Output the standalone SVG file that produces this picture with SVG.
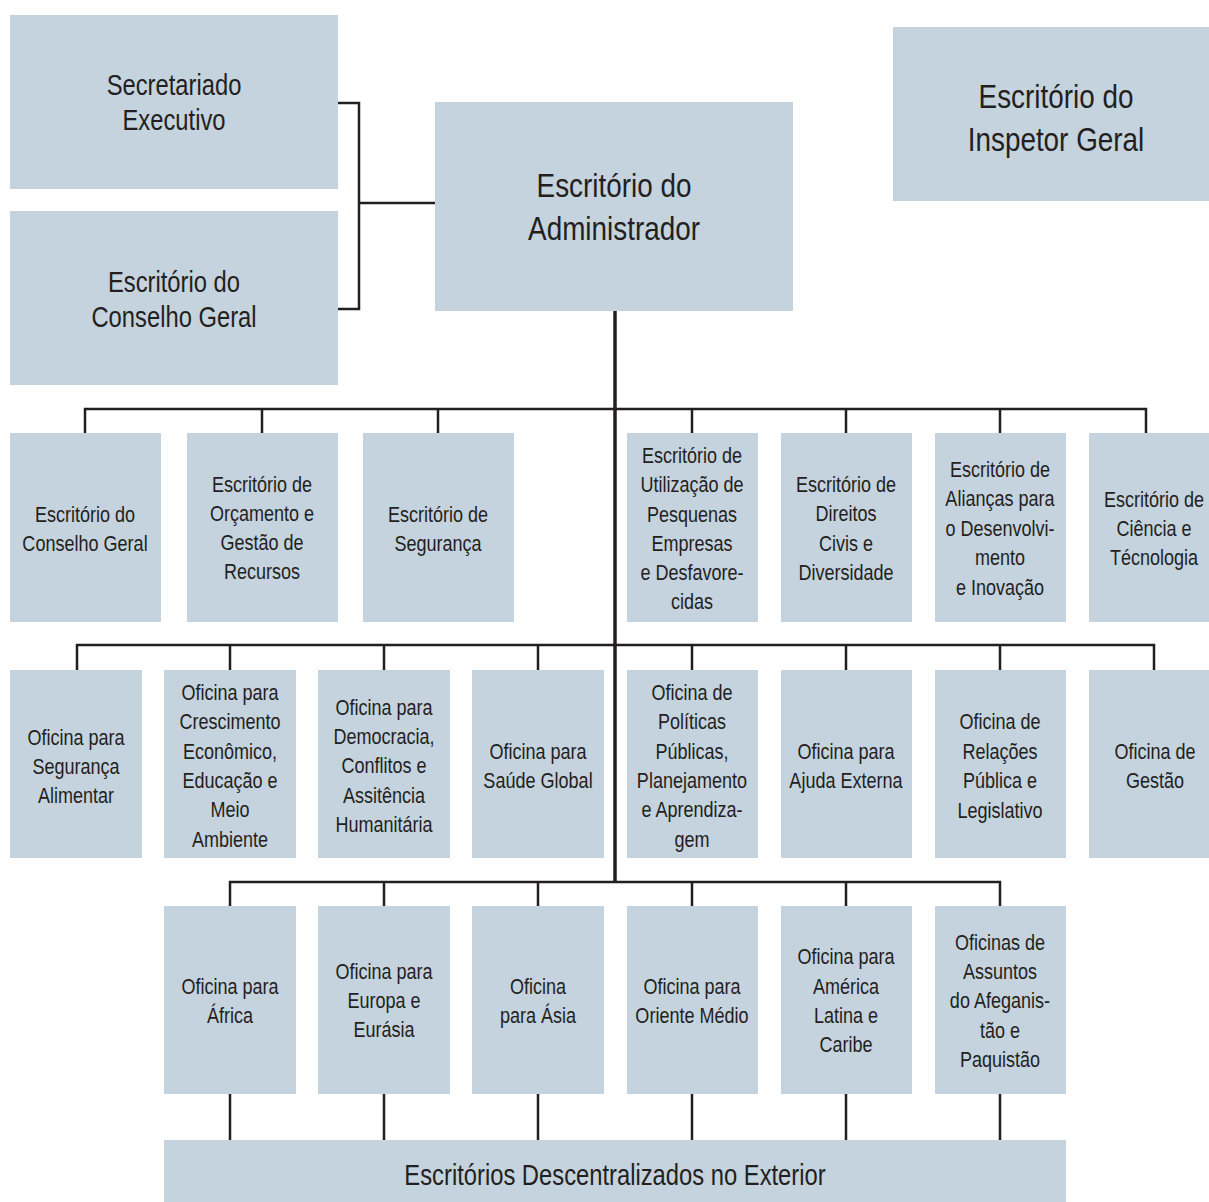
<svg xmlns="http://www.w3.org/2000/svg" width="1209" height="1202" viewBox="0 0 1209 1202">
<style>
.box{fill:#c5d3de}
.t{font-family:"Liberation Sans",Arial,sans-serif;fill:#231f20;text-anchor:middle}
.s{font-size:22px}
.m{font-size:29px}
.l{font-size:34px}
.c{stroke:#231f20;stroke-width:2.5;fill:none}
.sp{stroke:#231f20;stroke-width:3.5;fill:none}
</style>
<rect width="1209" height="1202" fill="#fff"/>
<g id="connectors">
<path class="c" d="M338 103H359V309H338M359 203H435"/>
<path class="sp" d="M615 311V882"/>
<path class="c" d="M85 433V409H1146V433M262 409V433M438 409V433M692 409V433M846 409V433M1000 409V433"/>
<path class="c" d="M77 670V645H1154V670M230 645V670M384 645V670M538 645V670M692 645V670M846 645V670M1000 645V670"/>
<path class="c" d="M230 906V882H1000V906M384 882V906M538 882V906M692 882V906M846 882V906"/>
<path class="c" d="M230 1094V1140M384 1094V1140M538 1094V1140M692 1094V1140M846 1094V1140M1000 1094V1140"/>
</g>
<g id="n-secretariado"><rect class="box" x="10" y="15" width="328" height="174"/><text class="t m" transform="translate(174 0) scale(0.82 1)"><tspan x="0" y="95">Secretariado</tspan><tspan x="0" y="130">Executivo</tspan></text></g>
<g id="n-conselho-top"><rect class="box" x="10" y="211" width="328" height="174"/><text class="t m" transform="translate(174 0) scale(0.82 1)"><tspan x="0" y="292">Escritório do</tspan><tspan x="0" y="327">Conselho Geral</tspan></text></g>
<g id="n-admin"><rect class="box" x="435" y="102" width="358" height="209"/><text class="t l" transform="translate(614 0) scale(0.82 1)"><tspan x="0" y="197">Escritório do</tspan><tspan x="0" y="240">Administrador</tspan></text></g>
<g id="n-inspetor"><rect class="box" x="893" y="27" width="316" height="174"/><text class="t l" transform="translate(1056 0) scale(0.82 1)"><tspan x="0" y="108">Escritório do</tspan><tspan x="0" y="151">Inspetor Geral</tspan></text></g>

<g id="r1-1"><rect class="box" x="10" y="433" width="151" height="189"/><text class="t s" transform="translate(85 0) scale(0.82 1)"><tspan x="0" y="522">Escritório do</tspan><tspan x="0" y="551">Conselho Geral</tspan></text></g>
<g id="r1-2"><rect class="box" x="187" y="433" width="151" height="189"/><text class="t s" transform="translate(262 0) scale(0.82 1)"><tspan x="0" y="492">Escritório de</tspan><tspan x="0" y="521">Orçamento e</tspan><tspan x="0" y="550">Gestão de</tspan><tspan x="0" y="579">Recursos</tspan></text></g>
<g id="r1-3"><rect class="box" x="363" y="433" width="151" height="189"/><text class="t s" transform="translate(438 0) scale(0.82 1)"><tspan x="0" y="522">Escritório de</tspan><tspan x="0" y="551">Segurança</tspan></text></g>
<g id="r1-4"><rect class="box" x="627" y="433" width="131" height="189"/><text class="t s" transform="translate(692 0) scale(0.82 1)"><tspan x="0" y="463">Escritório de</tspan><tspan x="0" y="492">Utilização de</tspan><tspan x="0" y="522">Pesquenas</tspan><tspan x="0" y="551">Empresas</tspan><tspan x="0" y="580">e Desfavore-</tspan><tspan x="0" y="609">cidas</tspan></text></g>
<g id="r1-5"><rect class="box" x="781" y="433" width="131" height="189"/><text class="t s" transform="translate(846 0) scale(0.82 1)"><tspan x="0" y="492">Escritório de</tspan><tspan x="0" y="521">Direitos</tspan><tspan x="0" y="551">Civis e</tspan><tspan x="0" y="580">Diversidade</tspan></text></g>
<g id="r1-6"><rect class="box" x="935" y="433" width="131" height="189"/><text class="t s" transform="translate(1000 0) scale(0.82 1)"><tspan x="0" y="477">Escritório de</tspan><tspan x="0" y="506">Alianças para</tspan><tspan x="0" y="536">o Desenvolvi-</tspan><tspan x="0" y="565">mento</tspan><tspan x="0" y="595">e Inovação</tspan></text></g>
<g id="r1-7"><rect class="box" x="1089" y="433" width="120" height="189"/><text class="t s" transform="translate(1154 0) scale(0.82 1)"><tspan x="0" y="507">Escritório de</tspan><tspan x="0" y="536">Ciência e</tspan><tspan x="0" y="565">Técnologia</tspan></text></g>

<g id="r2-1"><rect class="box" x="10" y="670" width="132" height="188"/><text class="t s" transform="translate(76 0) scale(0.82 1)"><tspan x="0" y="745">Oficina para</tspan><tspan x="0" y="774">Segurança</tspan><tspan x="0" y="803">Alimentar</tspan></text></g>
<g id="r2-2"><rect class="box" x="164" y="670" width="132" height="188"/><text class="t s" transform="translate(230 0) scale(0.82 1)"><tspan x="0" y="700">Oficina para</tspan><tspan x="0" y="729">Crescimento</tspan><tspan x="0" y="759">Econômico,</tspan><tspan x="0" y="788">Educação e</tspan><tspan x="0" y="817">Meio</tspan><tspan x="0" y="847">Ambiente</tspan></text></g>
<g id="r2-3"><rect class="box" x="318" y="670" width="132" height="188"/><text class="t s" transform="translate(384 0) scale(0.82 1)"><tspan x="0" y="715">Oficina para</tspan><tspan x="0" y="744">Democracia,</tspan><tspan x="0" y="773">Conflitos e</tspan><tspan x="0" y="803">Assitência</tspan><tspan x="0" y="832">Humanitária</tspan></text></g>
<g id="r2-4"><rect class="box" x="472" y="670" width="132" height="188"/><text class="t s" transform="translate(538 0) scale(0.82 1)"><tspan x="0" y="759">Oficina para</tspan><tspan x="0" y="788">Saúde Global</tspan></text></g>
<g id="r2-5"><rect class="box" x="627" y="670" width="131" height="188"/><text class="t s" transform="translate(692 0) scale(0.82 1)"><tspan x="0" y="700">Oficina de</tspan><tspan x="0" y="729">Políticas</tspan><tspan x="0" y="759">Públicas,</tspan><tspan x="0" y="788">Planejamento</tspan><tspan x="0" y="817">e Aprendiza-</tspan><tspan x="0" y="847">gem</tspan></text></g>
<g id="r2-6"><rect class="box" x="781" y="670" width="131" height="188"/><text class="t s" transform="translate(846 0) scale(0.82 1)"><tspan x="0" y="759">Oficina para</tspan><tspan x="0" y="788">Ajuda Externa</tspan></text></g>
<g id="r2-7"><rect class="box" x="935" y="670" width="131" height="188"/><text class="t s" transform="translate(1000 0) scale(0.82 1)"><tspan x="0" y="729">Oficina de</tspan><tspan x="0" y="759">Relações</tspan><tspan x="0" y="788">Pública e</tspan><tspan x="0" y="818">Legislativo</tspan></text></g>
<g id="r2-8"><rect class="box" x="1089" y="670" width="120" height="188"/><text class="t s" transform="translate(1155 0) scale(0.82 1)"><tspan x="0" y="759">Oficina de</tspan><tspan x="0" y="788">Gestão</tspan></text></g>

<g id="r3-1"><rect class="box" x="164" y="906" width="132" height="188"/><text class="t s" transform="translate(230 0) scale(0.82 1)"><tspan x="0" y="994">Oficina para</tspan><tspan x="0" y="1023">África</tspan></text></g>
<g id="r3-2"><rect class="box" x="318" y="906" width="132" height="188"/><text class="t s" transform="translate(384 0) scale(0.82 1)"><tspan x="0" y="979">Oficina para</tspan><tspan x="0" y="1008">Europa e</tspan><tspan x="0" y="1037">Eurásia</tspan></text></g>
<g id="r3-3"><rect class="box" x="472" y="906" width="132" height="188"/><text class="t s" transform="translate(538 0) scale(0.82 1)"><tspan x="0" y="994">Oficina</tspan><tspan x="0" y="1023">para Ásia</tspan></text></g>
<g id="r3-4"><rect class="box" x="627" y="906" width="131" height="188"/><text class="t s" transform="translate(692 0) scale(0.82 1)"><tspan x="0" y="994">Oficina para</tspan><tspan x="0" y="1023">Oriente Médio</tspan></text></g>
<g id="r3-5"><rect class="box" x="781" y="906" width="131" height="188"/><text class="t s" transform="translate(846 0) scale(0.82 1)"><tspan x="0" y="964">Oficina para</tspan><tspan x="0" y="994">América</tspan><tspan x="0" y="1023">Latina e</tspan><tspan x="0" y="1052">Caribe</tspan></text></g>
<g id="r3-6"><rect class="box" x="935" y="906" width="131" height="188"/><text class="t s" transform="translate(1000 0) scale(0.82 1)"><tspan x="0" y="950">Oficinas de</tspan><tspan x="0" y="979">Assuntos</tspan><tspan x="0" y="1008">do Afeganis-</tspan><tspan x="0" y="1038">tão e</tspan><tspan x="0" y="1067">Paquistão</tspan></text></g>

<g id="n-exterior"><rect class="box" x="164" y="1140" width="902" height="62"/><text class="t m" transform="translate(615 0) scale(0.82 1)"><tspan x="0" y="1185">Escritórios Descentralizados no Exterior</tspan></text></g>
</svg>
